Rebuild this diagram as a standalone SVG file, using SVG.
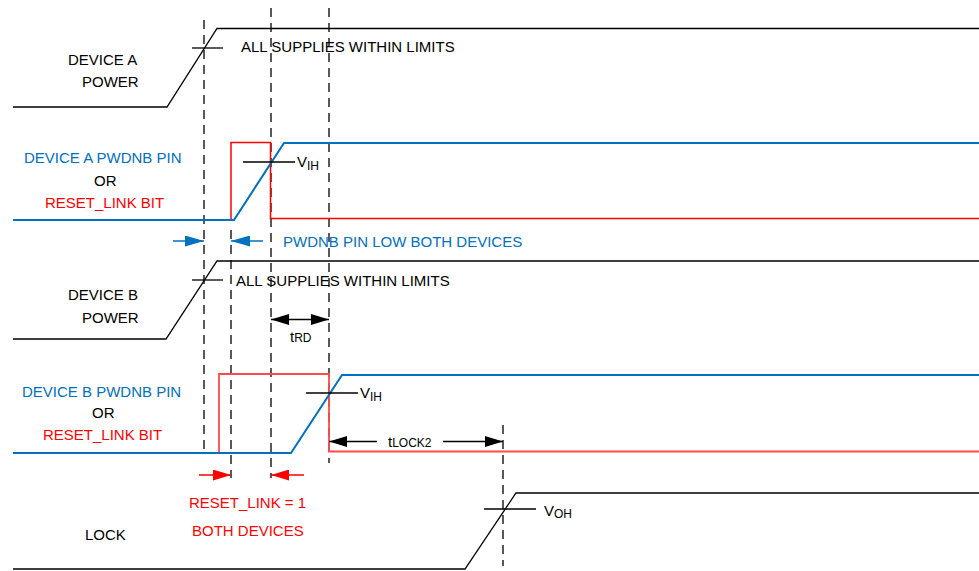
<svg xmlns="http://www.w3.org/2000/svg" width="979" height="571" viewBox="0 0 979 571">
<style>
text{font-family:"Liberation Sans",Arial,sans-serif;font-size:15px;fill:#000}
.b{fill:#0070C0}
.r{fill:#FF0000}
.sub{font-size:12px}
.sig{fill:none;stroke:#000;stroke-width:1.3}
.blue{fill:none;stroke:#0070C0;stroke-width:2}
.red{fill:none;stroke:#FF0000;stroke-width:1.5}
.red2{fill:none;stroke:#FF4B4B;stroke-width:1.8}
.dash{fill:none;stroke:#000;stroke-width:1.3;stroke-dasharray:9,6}
.tick{stroke:#000;stroke-width:1.3}
.ab{stroke:#0070C0;stroke-width:1.5;fill:none}
.ar{stroke:#FF0000;stroke-width:1.5;fill:none}
.ak{stroke:#000;stroke-width:1.3;fill:none}
</style>
<defs>
<marker id="mb" viewBox="0 0 19 11" refX="19" refY="5.5" markerWidth="19" markerHeight="11" markerUnits="userSpaceOnUse" orient="auto"><path d="M0,0 L19,5.5 L0,11 z" fill="#0070C0"/></marker>
<marker id="mr" viewBox="0 0 18 11" refX="18" refY="5.5" markerWidth="18" markerHeight="11" markerUnits="userSpaceOnUse" orient="auto"><path d="M0,0 L18,5.5 L0,11 z" fill="#FF0000"/></marker>
<marker id="mk" viewBox="0 0 18 11" refX="18" refY="5.5" markerWidth="18" markerHeight="11" markerUnits="userSpaceOnUse" orient="auto"><path d="M0,0 L18,5.5 L0,11 z" fill="#000"/></marker>
<marker id="mks" viewBox="0 0 18 11" refX="0" refY="5.5" markerWidth="18" markerHeight="11" markerUnits="userSpaceOnUse" orient="auto"><path d="M18,0 L0,5.5 L18,11 z" fill="#000"/></marker>
</defs>

<g id="guides">
<line class="dash" x1="204" y1="20" x2="204" y2="452"/>
<line class="dash" x1="231" y1="230" x2="231" y2="478"/>
<line class="dash" x1="271" y1="8" x2="271" y2="478"/>
<line class="dash" x1="329" y1="8" x2="329" y2="463"/>
<line class="dash" x1="503" y1="425" x2="503" y2="566"/>
</g>

<g id="device-a-power">
<text x="68" y="65">DEVICE A</text>
<text x="82" y="87">POWER</text>
<polyline class="sig" points="13,107 167,107 217,28.5 979,28.5"/>
<line class="tick" x1="192" y1="48" x2="223" y2="48"/>
<text x="241" y="52">ALL SUPPLIES WITHIN LIMITS</text>
</g>

<g id="device-a-pwdnb">
<text class="b" x="24" y="163">DEVICE A PWDNB PIN</text>
<text x="94" y="186">OR</text>
<text class="r" x="45" y="208">RESET_LINK BIT</text>
<polyline class="red" points="231,220 231,142.5 270.5,142.5 270.5,218.5 979,218.5"/>
<polyline class="blue" points="13,220 234,220 284,143 979,143"/>
<line class="tick" x1="243" y1="162" x2="295" y2="162"/>
<text x="297" y="167">V<tspan class="sub" dy="3">IH</tspan></text>
</g>

<g id="pwdnb-low">
<line class="ab" x1="173" y1="241" x2="204" y2="241" marker-end="url(#mb)"/>
<line class="ab" x1="263" y1="241" x2="231" y2="241" marker-end="url(#mb)"/>
<text class="b" x="283" y="247">PWDNB PIN LOW BOTH DEVICES</text>
</g>

<g id="device-b-power">
<text x="68" y="300">DEVICE B</text>
<text x="82" y="323">POWER</text>
<polyline class="sig" points="13,339 166,339 217,261 979,261"/>
<line class="tick" x1="192" y1="280" x2="223" y2="280"/>
<text x="236" y="286">ALL SUPPLIES WITHIN LIMITS</text>
</g>

<g id="trd">
<line class="ak" x1="271" y1="319.5" x2="329" y2="319.5" marker-start="url(#mks)" marker-end="url(#mk)"/>
<text x="290" y="342">t<tspan class="sub">RD</tspan></text>
</g>

<g id="device-b-pwdnb">
<text class="b" x="22" y="397">DEVICE B PWDNB PIN</text>
<text x="92" y="418">OR</text>
<text class="r" x="43" y="440">RESET_LINK BIT</text>
<polyline class="red2" points="219,453 219,374 329,374 329,451.5 979,451.5"/>
<polyline class="blue" points="13,453 291,453 342,375 979,375"/>
<line class="tick" x1="306" y1="393" x2="358" y2="393"/>
<text x="360" y="398">V<tspan class="sub" dy="3">IH</tspan></text>
</g>

<g id="tlock2">
<line class="ak" x1="377" y1="441.5" x2="329" y2="441.5" marker-end="url(#mk)"/>
<line class="ak" x1="443" y1="441.5" x2="503" y2="441.5" marker-end="url(#mk)"/>
<text x="388" y="447">t<tspan class="sub">LOCK2</tspan></text>
</g>

<g id="reset-link">
<line class="ar" x1="199" y1="475" x2="231" y2="475" marker-end="url(#mr)"/>
<line class="ar" x1="304" y1="475" x2="271" y2="475" marker-end="url(#mr)"/>
<text class="r" x="189" y="508">RESET_LINK = 1</text>
<text class="r" x="192" y="536">BOTH DEVICES</text>
</g>

<g id="lock">
<text x="85" y="540">LOCK</text>
<polyline class="sig" points="13,569 465,569 516,493 979,493"/>
<line class="tick" x1="484" y1="509" x2="536" y2="509"/>
<text x="544" y="516">V<tspan class="sub" dy="2">OH</tspan></text>
</g>
</svg>
